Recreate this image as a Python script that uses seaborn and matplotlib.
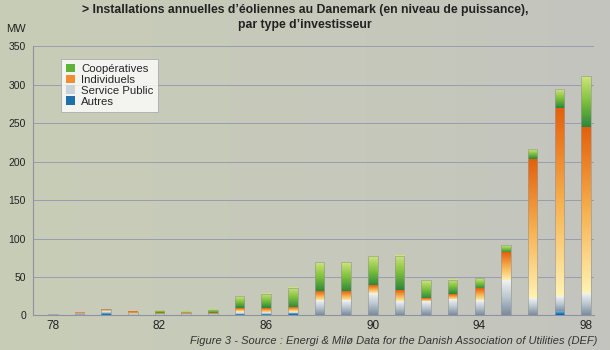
import numpy as np
import pandas as pd
import matplotlib
matplotlib.use("Agg")
import matplotlib.pyplot as plt
from matplotlib.colors import LinearSegmentedColormap
from matplotlib.patches import Patch
import seaborn as sns

# Annual wind turbine installations in Denmark (MW) by investor type
years = ["78", "79", "80", "81", "82", "83", "84", "85", "86", "87", "88",
         "89", "90", "91", "92", "93", "94", "95", "96", "97", "98"]
autres = [0, 0, 1.5, 0, 0, 0, 0, 1, 0.5, 1.5, 0,
          0, 0, 0, 0, 0, 0, 0, 0, 5, 0]
service_public = [0.5, 1.5, 3, 0.5, 1, 0.5, 1, 3.5, 3, 2.5, 19,
                  19, 28, 18, 17, 20, 19, 45, 21.5, 20.5, 27.5]
individuels = [1, 1.5, 3.5, 4.5, 2, 1.5, 2, 5, 6, 5.5, 12,
               12, 11, 15, 4.5, 7.5, 16, 36.5, 181.5, 244.5, 216.5]
cooperatives = [0, 0, 0, 0, 3, 3, 4, 15.5, 18.5, 26.5, 38,
                38, 38.5, 44.5, 24.5, 18.5, 14, 10, 13, 24.5, 67.5]

series_names = ["Autres", "Service Public", "Individuels", "Coopératives"]
series_values = [autres, service_public, individuels, cooperatives]
xtick_years = ["78", "82", "86", "90", "94", "98"]

# vertical gradients for each investor type (bottom -> top)
gradients = {
    "Autres": ["#0b5592", "#2f8bc8", "#6fb7e0"],
    "Service Public": ["#7a8b9d", "#b9c6d0", "#f0f3f1"],
    "Individuels": ["#fff3b4", "#f7b04e", "#e4600c"],
    "Coopératives": ["#2a853d", "#7cc03a", "#cfe57a"],
}
legend_colors = {
    "Coopératives": "#5fb33a",
    "Individuels": "#f18d33",
    "Service Public": "#c9d3da",
    "Autres": "#1f6fa8",
}

sns.set_theme(style="white")
plt.rcParams["font.family"] = ["Liberation Sans", "DejaVu Sans"]

fig = plt.figure(figsize=(6.1, 3.5), dpi=100)

# soft background tint across the figure
bg = fig.add_axes([0, 0, 1, 1], zorder=-10)
bg_cmap = LinearSegmentedColormap.from_list("bg", ["#c8cdb6", "#c6c9ba", "#c4c4bf"])
bg.imshow(np.linspace(0, 1, 256)[None, :], aspect="auto", cmap=bg_cmap,
          extent=[0, 1, 0, 1])
bg.set_axis_off()

ax = fig.add_axes([0.0541, 0.0986, 0.9197, 0.7686])
ax.set_facecolor("none")

df = pd.DataFrame({"annee": years})
for name, vals in zip(series_names, series_values):
    df[name] = vals
cum = df[series_names].cumsum(axis=1)

# stacked bars: tallest cumulative layer first
layers = list(reversed(series_names))
for name in layers:
    sns.barplot(x=df["annee"], y=cum[name], ax=ax, color=legend_colors[name],
                width=0.36, saturation=1, linewidth=0, zorder=2)

# paint each visible segment with its gradient
n = len(years)
for li, name in enumerate(layers):
    cmap = LinearSegmentedColormap.from_list(name, gradients[name])
    patches = ax.patches[li * n:(li + 1) * n]
    idx = series_names.index(name)
    lower = cum[series_names[idx - 1]] if idx > 0 else pd.Series(np.zeros(n))
    for i, p in enumerate(patches):
        lo, hi = float(lower.iloc[i]), float(cum[name].iloc[i])
        if hi - lo <= 0:
            continue
        x0 = p.get_x()
        x1 = x0 + p.get_width()
        ax.imshow(np.linspace(0, 1, 128)[:, None], cmap=cmap, origin="lower",
                  aspect="auto", extent=[x0, x1, lo, hi], zorder=3,
                  interpolation="bilinear")

# thin outline round each full bar
for i, p in enumerate(ax.patches[:n]):
    total = float(cum[series_names[-1]].iloc[i])
    if total > 0:
        ax.add_patch(plt.Rectangle((p.get_x(), 0), p.get_width(), total,
                                   fill=False, edgecolor="#9c9c98",
                                   linewidth=0.5, zorder=4))

ax.set_xlim(-0.74, 20.27)
ax.set_ylim(0, 350)
ax.set_yticks(np.arange(0, 351, 50))
ax.set_yticklabels([str(v) for v in range(0, 351, 50)], fontsize=7.5,
                   color="#222222")
ax.set_xticks([years.index(y) for y in xtick_years])
ax.set_xticklabels(xtick_years, fontsize=8.5, color="#222222")
ax.set_xticks(np.arange(n) + 0.3, minor=True)
ax.tick_params(axis="x", which="major", length=0, pad=3)
ax.tick_params(axis="x", which="minor", length=2.5, width=0.6,
               color="#8a8a8a", direction="out")
ax.tick_params(axis="y", length=3, width=0.6, color="#8e93a4", pad=2)
ax.set_xlabel("")
ax.set_ylabel("")

ax.yaxis.grid(True, color="#979db0", linewidth=0.7)
ax.set_axisbelow(True)
for s in ["top", "right"]:
    ax.spines[s].set_visible(False)
ax.spines["left"].set_color("#8e93a4")
ax.spines["left"].set_linewidth(0.8)
ax.spines["bottom"].set_color("#8e93a4")
ax.spines["bottom"].set_linewidth(0.8)

handles = [Patch(facecolor=legend_colors[nm], edgecolor="none")
           for nm in ["Coopératives", "Individuels", "Service Public", "Autres"]]
leg = ax.legend(handles, ["Coopératives", "Individuels", "Service Public", "Autres"],
                loc="upper left", bbox_to_anchor=(0.05, 0.955), fontsize=8.2,
                frameon=True, fancybox=False, handlelength=0.8, handleheight=0.8,
                handletextpad=0.5, labelspacing=0.05, borderpad=0.45,
                borderaxespad=0)
leg.get_frame().set_facecolor("white")
leg.get_frame().set_edgecolor("#a0a0a0")
leg.get_frame().set_linewidth(0.6)
leg.set_zorder(6)

fig.text(0.5, 1 - 10 / 350,
         "> Installations annuelles d\u2019éoliennes au Danemark (en niveau de puissance),",
         ha="center", va="center", fontsize=8.8, fontweight="bold", color="#222222")
fig.text(0.5, 1 - 25 / 350, "par type d\u2019investisseur",
         ha="center", va="center", fontsize=8.8, fontweight="bold", color="#222222")
fig.text(6 / 610, 1 - 29 / 350, "MW", ha="left", va="center", fontsize=8,
         color="#222222")
fig.text(597 / 610, 1 - 341 / 350,
         "Figure 3 - Source : Energi & Milø Data for the Danish Association of Utilities (DEF)",
         ha="right", va="center", fontsize=8.0, style="italic", color="#333333")

fig.savefig("out.png", dpi=100)
